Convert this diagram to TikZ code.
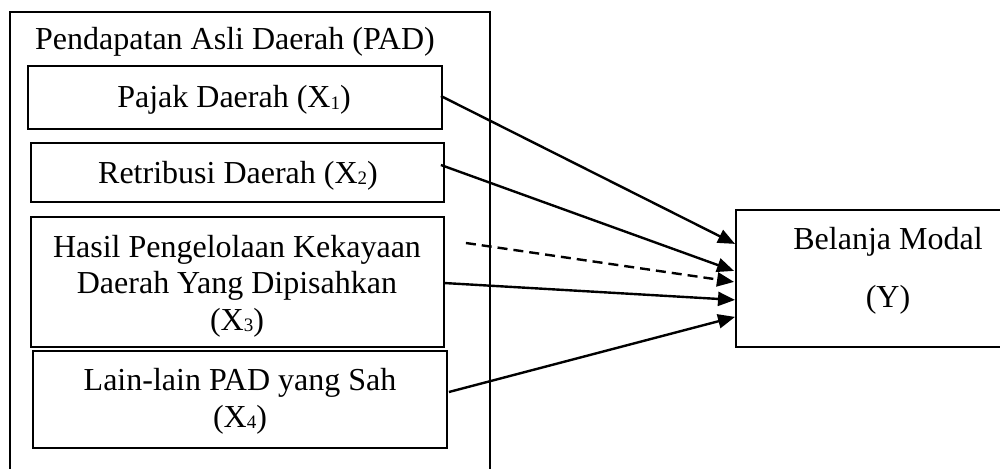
\documentclass[tikz,border=0pt]{standalone}
\usepackage{fontspec}
\setmainfont{Liberation Serif}
\usetikzlibrary{arrows.meta}
\newcommand{\mysub}[1]{\raisebox{-1.5pt}{\fontsize{19}{19}\selectfont #1}}
\tikzset{
  box/.style={draw, line width=1.8pt, rectangle, inner sep=0pt},
  lbl/.style={font=\fontsize{32}{36.5}\selectfont, inner sep=0pt, align=center},
  arr/.style={line width=2.4pt, -{Triangle[length=17pt,width=14pt]}},
}
\begin{document}
\begin{tikzpicture}[x=1pt,y=-1pt]
\clip (0,0) rectangle (1000,468);
\fill[white] (0,0) rectangle (1000,468);
% outer container (bottom edge lies beyond the picture)
\node[box, line width=2.2pt, minimum width=480pt, minimum height=480pt, anchor=north west] (pad) at (9,11) {};
\node[lbl, anchor=base] (padt) at (235,50) {Pendapatan Asli Daerah (PAD)};
% inner boxes
\node[box, minimum width=414pt, minimum height=63pt] (x1) at (235,97.5) {};
\node[lbl, anchor=base] (x1t) at (234,108) {Pajak Daerah (X\mysub{1})};
\node[box, minimum width=413pt, minimum height=59pt] (x2) at (237.5,172.5) {};
\node[lbl, anchor=base] (x2t) at (238,183) {Retribusi Daerah (X\mysub{2})};
\node[box, minimum width=413pt, minimum height=130pt] (x3) at (237.5,282) {};
\node[lbl, anchor=base] (x3t) at (237,330) {Hasil Pengelolaan Kekayaan\\Daerah Yang Dipisahkan\\(X\mysub{3})};
\node[box, minimum width=414pt, minimum height=97pt] (x4) at (240,399.5) {};
\node[lbl, anchor=base] (x4t) at (240,427) {Lain-lain PAD yang Sah\\(X\mysub{4})};
% dependent variable box (right edge lies beyond the picture)
\node[box, minimum width=300pt, minimum height=137pt, anchor=north west] (y) at (735,209) {};
\node[lbl, anchor=base, font=\fontsize{32}{58}\selectfont] (yt) at (888,307) {Belanja Modal\\(Y)};
% connectors
\draw[arr] ([xshift=-2pt,yshift=1.5pt]x1.east) -- ([yshift=34.5pt]y.west);
\draw[arr] ([xshift=-4pt,yshift=7.5pt]x2.east) -- ([xshift=-1pt,yshift=7.5pt]y.west);
\draw[arr, dashed, dash pattern=on 10pt off 6pt] ([xshift=21pt,yshift=39pt]x3.east) -- ([xshift=-1pt,yshift=-3.5pt]y.west);
\draw[arr] ([xshift=-1pt,yshift=-1pt]x3.east) -- ([yshift=-21.5pt]y.west);
\draw[arr] ([xshift=1pt,yshift=7.5pt]x4.east) -- ([yshift=-38.5pt]y.west);
\end{tikzpicture}
\end{document}
